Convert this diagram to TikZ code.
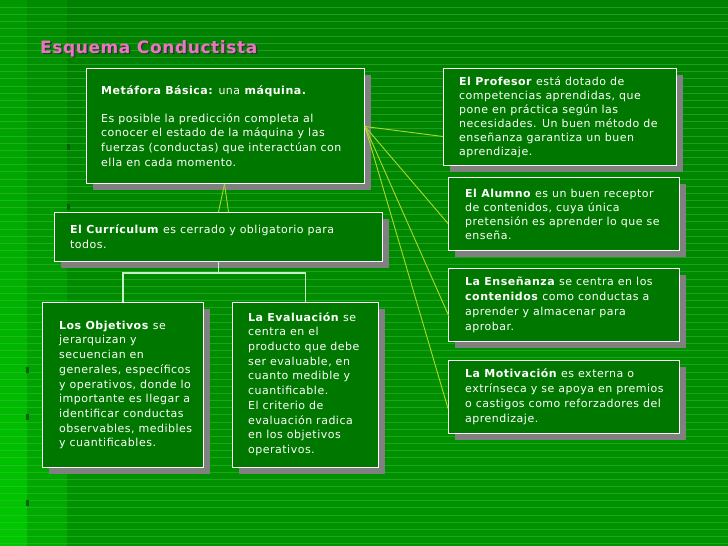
\documentclass[tikz,border=0pt]{standalone}
\usepackage{fontspec}
\setmainfont{DejaVu Sans}
\newfontfamily\bodyfont{DejaVu Sans}[LetterSpace=4.5]
\newfontfamily\titlefont{DejaVu Sans}[LetterSpace=3.5]
\usetikzlibrary{shadows,calc}
\definecolor{boxgreen}{RGB}{0,120,0}
\definecolor{bgtop}{RGB}{0,128,0}
\definecolor{bgbot}{RGB}{0,148,0}
\definecolor{bandtop}{RGB}{0,140,0}
\definecolor{bandbot}{RGB}{0,172,0}
\definecolor{edgetop}{RGB}{0,152,0}
\definecolor{edgebot}{RGB}{0,200,0}
\definecolor{stripecol}{RGB}{70,190,70}
\definecolor{fancol}{RGB}{175,215,40}
\definecolor{treecol}{RGB}{200,240,200}
\definecolor{titlepink}{RGB}{232,120,190}
\definecolor{shadowgray}{RGB}{128,128,128}
\definecolor{markcol}{RGB}{0,95,0}
\tikzset{
  card/.style={draw=white, line width=1pt, fill=boxgreen, anchor=north west,
    inner sep=0pt,
    drop shadow={shadow xshift=6pt, shadow yshift=-6pt, fill=shadowgray, opacity=1}},
  cardtext/.style={anchor=west, align=left, inner sep=0pt, text=white,
    font=\bodyfont\fontsize{11}{14.7}\selectfont},
  stripe/.style={draw=stripecol, line width=0.8pt, opacity=0.45},
  fan/.style={draw=fancol, line width=0.9pt},
  tree/.style={draw=treecol, line width=1.2pt},
  bulletmark/.style={fill=markcol}
}
\begin{document}
\begin{tikzpicture}[x=1pt,y=-1pt]
\useasboundingbox (0,0) rectangle (728,546);
% background
\shade[top color=bgtop, bottom color=bgbot] (0,0) rectangle (728,546);
\shade[top color=bandtop, bottom color=bandbot] (27,0) rectangle (67,546);
\shade[top color=edgetop, bottom color=edgebot] (0,0) rectangle (27,546);
\foreach \i in {0,...,76} \draw[stripe] (0,7.3+\i*7.15) -- (728,7.3+\i*7.15);
\foreach \p in {(67,144),(67,204),(26,367),(26,414),(26,500)}
  \fill[bulletmark] \p rectangle ++(3,6);
% title
\node[anchor=base west, inner sep=0pt, text=black!80, font=\titlefont\bfseries\fontsize{17}{20}\selectfont] (titleshadow) at (41.5,54.5) {Esquema Conductista};
\node[anchor=base west, inner sep=0pt, text=titlepink, font=\titlefont\bfseries\fontsize{17}{20}\selectfont] (title) at (40,53) {Esquema Conductista};
% boxes
\node[card, minimum width=278pt, minimum height=115pt] (meta) at (86,68) {};
\node[card, minimum width=233pt, minimum height=97pt] (prof) at (443,68) {};
\node[card, minimum width=231pt, minimum height=73pt] (alum) at (448,177) {};
\node[card, minimum width=231pt, minimum height=73pt] (ense) at (448,268) {};
\node[card, minimum width=231pt, minimum height=73pt] (moti) at (448,360) {};
\node[card, minimum width=328pt, minimum height=49pt] (curr) at (54,212) {};
\node[card, minimum width=161pt, minimum height=165pt] (obj) at (42,302) {};
\node[card, minimum width=146pt, minimum height=165pt] (eval) at (232,302) {};
% texts
\node[cardtext] (metat) at ([xshift=15pt]meta.west) {\textbf{Metáfora Básica:} una \textbf{máquina.}\\[13pt]
Es posible la predicción completa al\\
conocer el estado de la máquina y las\\
fuerzas (conductas) que interactúan con\\
ella en cada momento.};
\node[cardtext, font=\bodyfont\fontsize{11}{14}\selectfont] (proft) at ([xshift=16pt]prof.west) {\textbf{El Profesor} está dotado de\\
competencias aprendidas, que\\
pone en práctica según las\\
necesidades. Un buen método de\\
enseñanza garantiza un buen\\
aprendizaje.};
\node[cardtext, font=\bodyfont\fontsize{11}{14}\selectfont] (alumt) at ([xshift=17pt]alum.west) {\textbf{El Alumno} es un buen receptor\\
de contenidos, cuya única\\
pretensión es aprender lo que se\\
enseña.};
\node[cardtext, font=\bodyfont\fontsize{11}{15}\selectfont] (enset) at ([xshift=17pt]ense.west) {\textbf{La Enseñanza} se centra en los\\
\textbf{contenidos} como conductas a\\
aprender y almacenar para\\
aprobar.};
\node[cardtext, font=\bodyfont\fontsize{11}{15}\selectfont] (motit) at ([xshift=17pt]moti.west) {\textbf{La Motivación} es externa o\\
extrínseca y se apoya en premios\\
o castigos como reforzadores del\\
aprendizaje.};
\node[cardtext, font=\bodyfont\fontsize{11}{15}\selectfont] (currt) at ([xshift=16pt]curr.west) {\textbf{El Currículum} es cerrado y obligatorio para\\
todos.};
\node[cardtext] (objt) at ([xshift=17pt]obj.west) {\textbf{Los Objetivos} se\\
jerarquizan y\\
secuencian en\\
generales, específicos\\
y operativos, donde lo\\
importante es llegar a\\
identificar conductas\\
observables, medibles\\
y cuantificables.};
\node[cardtext] (evalt) at ([xshift=16pt,yshift=1pt]eval.west) {\textbf{La Evaluación} se\\
centra en el\\
producto que debe\\
ser evaluable, en\\
cuanto medible y\\
cuantificable.\\
El criterio de\\
evaluación radica\\
en los objetivos\\
operativos.};
% connectors
\coordinate (fanorigin) at ([yshift=-0.5pt]meta.east);
\draw[fan] (fanorigin) -- ([yshift=-19.5pt]prof.west);
\draw[fan] (fanorigin) -- ([yshift=-9.5pt]alum.west);
\draw[fan] (fanorigin) -- ([xshift=1pt,yshift=-11.5pt]ense.west);
\draw[fan] (fanorigin) -- ([yshift=-11.5pt]moti.west);
\coordinate (metafoot) at ([xshift=-1pt]meta.south);
\draw[fan] (metafoot) -- (curr.north);
\draw[fan] (metafoot) -- ([xshift=10pt]curr.north);
\coordinate (treejoin) at ($(curr.south)+(0,11)$);
\draw[tree] (curr.south) -- (treejoin);
\draw[tree] (obj.north) |- (treejoin) -| (eval.north);
\end{tikzpicture}
\end{document}
